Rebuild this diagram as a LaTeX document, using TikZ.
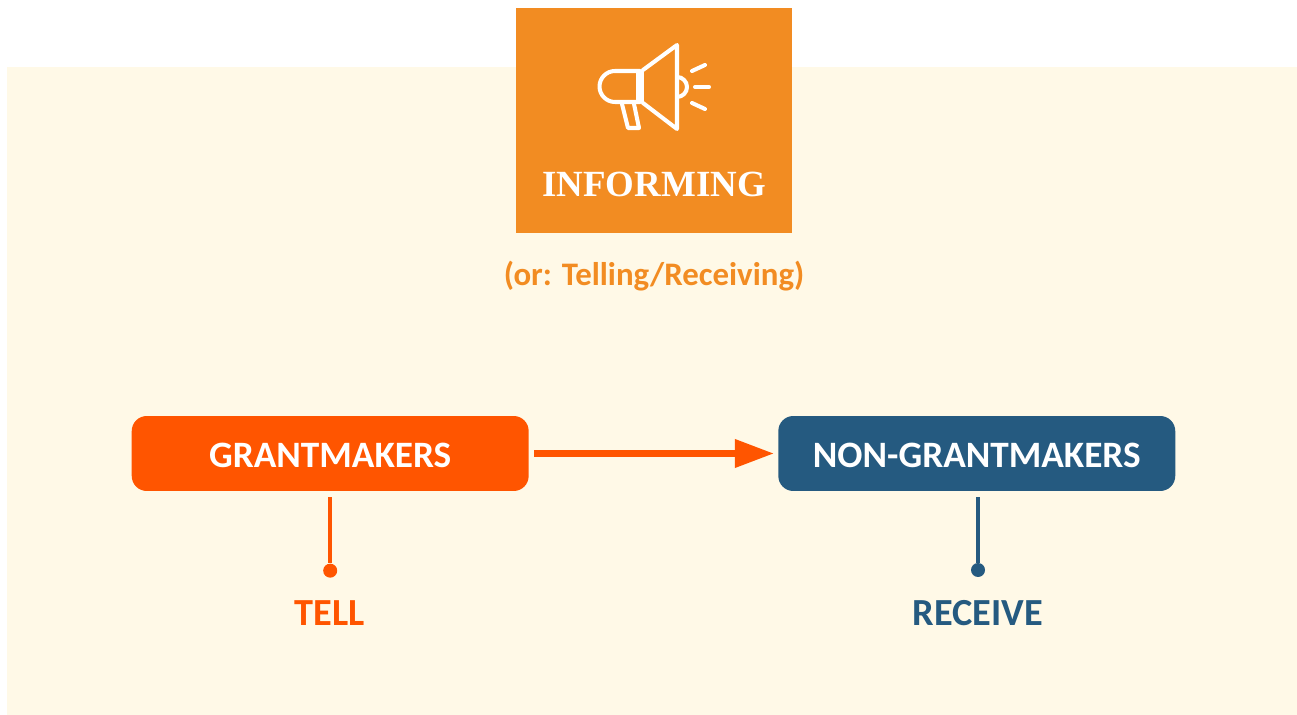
\documentclass[tikz,border=0pt]{standalone}
\usepackage{fontspec}
\setmainfont{Carlito}
\newfontfamily\headfont{Liberation Serif}
\usetikzlibrary{positioning}
\usetikzlibrary{arrows.meta}

\definecolor{creamBg}{HTML}{FFF9E7}
\definecolor{informOrange}{HTML}{F28C22}
\definecolor{tellRed}{HTML}{FF5500}
\definecolor{receiveBlue}{HTML}{255A80}

\tikzset{
  actor/.style = {rectangle, rounded corners = 0.3cm, minimum width = 7.94cm, minimum height = 1.5cm, inner sep = 0pt, text = white, text height = 0.56cm, text depth = 0pt, font = \fontsize{21.2}{24}\selectfont\bfseries},
  verb/.style = {font = \fontsize{21.8}{24}\selectfont\bfseries},
  dot/.style = {circle, inner sep = 0pt, minimum size = 0.28cm},
  icon/.style = {draw = white, line width = 2.3pt, line join = round, line cap = round}
}

\begin{document}
\begin{tikzpicture}[x = 0.02cm, y = -0.02cm]
        \useasboundingbox (0, 0) rectangle (1297, 715);
        \fill[creamBg] (7, 67) rectangle (1297, 715);

        \node[rectangle, fill = informOrange, minimum width = 5.52cm, minimum height = 4.5cm, inner sep = 0pt] (informing) at (654, 120.5) {};
        \node[text = white, font = \fontsize{21}{24}\selectfont\headfont\bfseries] (informingText) at (654, 184) {INFORMING};
        \node[text = informOrange, font = \fontsize{18.7}{22}\selectfont\bfseries, below = 0.44cm of informing] (informingSub) {(or: Telling/Receiving)};

        \node[actor, fill = tellRed] (grantmakers) at (330.2, 453.5) {GRANTMAKERS};
        \node[actor, fill = receiveBlue] (nongrantmakers) [right = 4.98cm of grantmakers] {NON-GRANTMAKERS};

        \node[dot, fill = tellRed] (tellDot) [below = 1.44cm of grantmakers.south] {};
        \node[dot, fill = receiveBlue] (receiveDot) at (978, 570) {};
        \node[verb, text = tellRed] (tell) at (330, 613.5) {TELL};
        \node[verb, text = receiveBlue] (receive) at (978, 613.5) {RECEIVE};

        \draw[tellRed, line width = 3.8pt, shorten <= 0.1cm, shorten >= 0.08cm] (grantmakers) edge[-{Triangle[length = 0.78cm, width = 0.54cm]}] (nongrantmakers);
        \draw[tellRed, line width = 2.2pt, shorten <= 0.12cm] (grantmakers.south -| tellDot) -- (tellDot);
        \draw[receiveBlue, line width = 2.2pt, shorten <= 0.12cm] (nongrantmakers.south -| receiveDot) -- (receiveDot);

        % megaphone
        \draw[icon] (640, 71) -- (615, 71) arc[start angle = 90, end angle = 270, radius = 0.31cm] -- (640, 102) -- cycle;
        \fill[white] (636, 70) rectangle (644, 103);
        \draw[icon] (643, 70) -- (677, 45) -- (677, 129) -- (643, 103);
        \draw[icon] (677, 77) arc[start angle = 90, end angle = -90, radius = 0.2cm];
        \draw[icon] (622, 104) -- (628, 128) -- (639, 128) -- (634, 104);
        \draw[icon] (692, 71) -- (705, 65);
        \draw[icon] (695, 87) -- (709, 87);
        \draw[icon] (692, 103) -- (705, 109);
      \end{tikzpicture}
\end{document}
